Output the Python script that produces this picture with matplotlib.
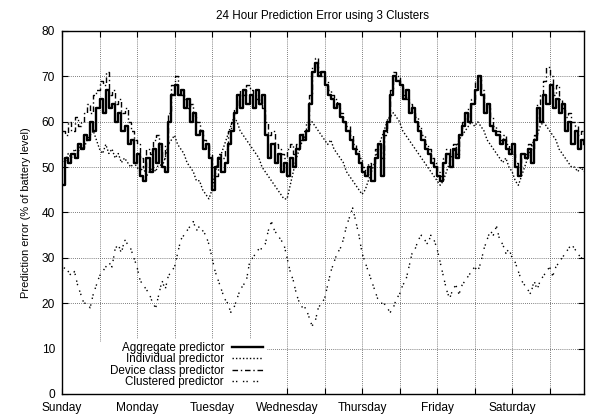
import matplotlib
matplotlib.use("Agg")
import matplotlib.pyplot as plt
from matplotlib.patches import Rectangle

plt.rcParams['font.family'] = ['Liberation Sans', 'DejaVu Sans']

title = "24 Hour Prediction Error using 3 Clusters"
ylabel = "Prediction error (% of battery level)"
day_labels = ["Sunday", "Monday", "Tuesday", "Wednesday", "Thursday", "Friday", "Saturday"]
series_names = ["Aggregate predictor", "Individual predictor",
                "Device class predictor", "Clustered predictor"]

hours = list(range(168))

aggregate = [46, 52, 51, 53, 52, 55, 54, 57, 56, 60, 58, 63, 65, 62, 67, 63, 64, 60, 62, 58,
             59, 55, 56, 51, 53, 48, 47, 52, 49, 54, 51, 55, 50, 49, 60, 66, 68, 66, 67, 63,
             65, 60, 62, 57, 58, 54, 55, 52, 45, 50, 52, 49, 51, 55, 58, 62, 66, 63, 67, 64,
             66, 63, 67, 64, 66, 57, 52, 55, 51, 53, 49, 51, 48, 52, 50, 54, 57, 56, 58, 64,
             71, 73, 70, 71, 68, 66, 65, 63, 64, 61, 60, 58, 56, 54, 53, 51, 49, 48, 50, 47,
             52, 55, 48, 58, 60, 66, 70, 69, 68, 65, 67, 62, 63, 60, 58, 56, 54, 53, 51, 50,
             48, 47, 51, 53, 50, 54, 52, 57, 59, 62, 60, 64, 67, 70, 66, 62, 64, 59, 58, 57,
             55, 56, 54, 53, 55, 50, 48, 53, 52, 54, 51, 56, 63, 60, 66, 64, 68, 63, 65, 62,
             64, 58, 60, 55, 58, 54, 56, 55]

individual = [52, 51, 53, 52, 54, 53, 55, 54, 56, 57, 58, 56, 54, 53, 55, 53, 54, 52, 53, 51,
              52, 51, 50, 51, 50, 49, 50, 48, 49, 50, 49, 51, 50, 52, 55, 56, 57, 55, 54, 53,
              51, 50, 49, 47, 47, 45, 44, 43, 45, 49, 51, 53, 55, 57, 59, 61, 60, 58, 57, 56,
              55, 54, 53, 52, 50, 49, 48, 47, 46, 45, 44, 43, 43, 46, 49, 52, 54, 56, 57, 59,
              60, 59, 58, 57, 56, 55, 56, 54, 53, 52, 51, 49, 48, 47, 46, 45, 44, 45, 47, 49,
              51, 54, 56, 58, 60, 61, 62, 61, 60, 58, 57, 56, 55, 54, 53, 52, 51, 50, 49, 48,
              47, 46, 47, 49, 51, 53, 54, 56, 57, 58, 59, 60, 59, 60, 59, 58, 56, 55, 54, 53,
              52, 51, 52, 50, 49, 47, 46, 48, 50, 52, 54, 56, 57, 59, 60, 59, 58, 57, 56, 54,
              53, 52, 51, 50, 50, 49, 50, 49]

device = [58, 57, 60, 58, 61, 59, 60, 62, 64, 62, 66, 67, 69, 68, 71, 66, 67, 64, 65, 62,
          63, 60, 58, 56, 55, 52, 50, 54, 53, 56, 57, 54, 52, 55, 62, 68, 70, 67, 66, 65,
          63, 64, 61, 60, 58, 56, 55, 53, 50, 48, 53, 52, 54, 58, 60, 63, 65, 67, 66, 68,
          67, 66, 65, 64, 63, 60, 57, 58, 55, 54, 53, 52, 54, 55, 53, 55, 56, 58, 60, 66,
          72, 74, 71, 70, 69, 67, 66, 65, 63, 62, 60, 59, 57, 55, 54, 52, 50, 49, 51, 50,
          54, 55, 52, 57, 61, 67, 71, 70, 68, 66, 65, 64, 62, 61, 59, 57, 55, 54, 52, 51,
          49, 48, 52, 54, 52, 55, 53, 57, 60, 61, 63, 65, 69, 70, 67, 64, 63, 61, 59, 58,
          56, 57, 55, 54, 53, 51, 50, 52, 53, 55, 54, 57, 64, 66, 69, 72, 70, 66, 68, 65,
          63, 61, 62, 60, 59, 57, 58, 57]

clustered = [27, 28, 27, 26, 27, 24, 22, 20, 20, 19, 22, 24, 26, 27, 28, 29, 28, 32, 33, 31,
             34, 33, 32, 30, 28, 25, 24, 23, 22, 20, 19, 22, 25, 23, 26, 27, 28, 31, 34, 35,
             36, 37, 38, 36, 37, 36, 35, 33, 30, 27, 25, 23, 21, 20, 18, 19, 21, 23, 24, 25,
             29, 30, 31, 32, 32, 33, 36, 38, 36, 35, 34, 33, 30, 27, 25, 22, 20, 19, 19, 17,
             15, 16, 19, 20, 21, 24, 27, 29, 31, 32, 34, 37, 39, 41, 38, 35, 31, 29, 27, 25,
             23, 21, 20, 20, 19, 18, 19, 21, 22, 24, 25, 28, 31, 32, 34, 35, 34, 33, 35, 34,
             32, 29, 26, 23, 21, 23, 24, 22, 24, 25, 26, 27, 28, 27, 29, 32, 34, 36, 35, 37,
             34, 33, 31, 32, 30, 29, 27, 25, 24, 23, 22, 25, 23, 25, 26, 27, 28, 26, 28, 29,
             30, 31, 32, 33, 32, 31, 30, 30]

fig = plt.figure(figsize=(5.89, 4.17), dpi=100)
ax = fig.add_axes([62/589, 23/417, 522/589, 363/417])

ax.plot(hours, aggregate, color='black', lw=1.7, ls='-', drawstyle='steps-post',
        label=series_names[0], zorder=5)
ax.plot(hours, individual, color='black', lw=1.0, ls=(0, (1, 1.5)),
        label=series_names[1], zorder=3)
ax.plot(hours, device, color='black', lw=1.0, ls=(0, (4, 2, 1, 2)), drawstyle='steps-post',
        label=series_names[2], zorder=4)
ax.plot(hours, clustered, color='black', lw=1.0, ls=(0, (1, 1.5, 1, 4)),
        label=series_names[3], zorder=3)

ax.set_xlim(0, 167)
ax.set_ylim(0, 80)
xt = list(range(0, 168, 12))
ax.set_xticks(xt)
ax.set_xticklabels([day_labels[t // 24] if t % 24 == 0 else "" for t in xt])
ax.set_yticks(range(0, 81, 10))
ax.tick_params(direction='in', top=True, right=True, length=4, width=0.8,
               labelsize=8.6, colors='black')
ax.tick_params(axis='x', pad=5.5)
ax.tick_params(axis='y', pad=5)
ax.grid(True, color='#555555', ls=(0, (1, 1.5)), lw=0.6)
ax.set_axisbelow(True)
for s in ax.spines.values():
    s.set_linewidth(1.0)

ax.set_title(title, fontsize=8.4, pad=9)
ax.set_ylabel(ylabel, fontsize=7.9, labelpad=8)

# opaque key area (gnuplot "set key opaque")
ax.add_patch(Rectangle((0, 0), 0.392, 0.143, transform=ax.transAxes,
                       facecolor='white', edgecolor='none', zorder=1))

leg = ax.legend(loc='lower right', bbox_to_anchor=(0.392, 0.007), fontsize=8.4,
                markerfirst=False, frameon=True, fancybox=False, framealpha=1,
                handlelength=2.65, handletextpad=0.7, labelspacing=-0.06,
                borderaxespad=0.0, borderpad=0.3)
leg.get_frame().set_edgecolor('none')
leg.get_frame().set_facecolor('white')
leg.set_zorder(10)

fig.savefig("out.png", dpi=100)
